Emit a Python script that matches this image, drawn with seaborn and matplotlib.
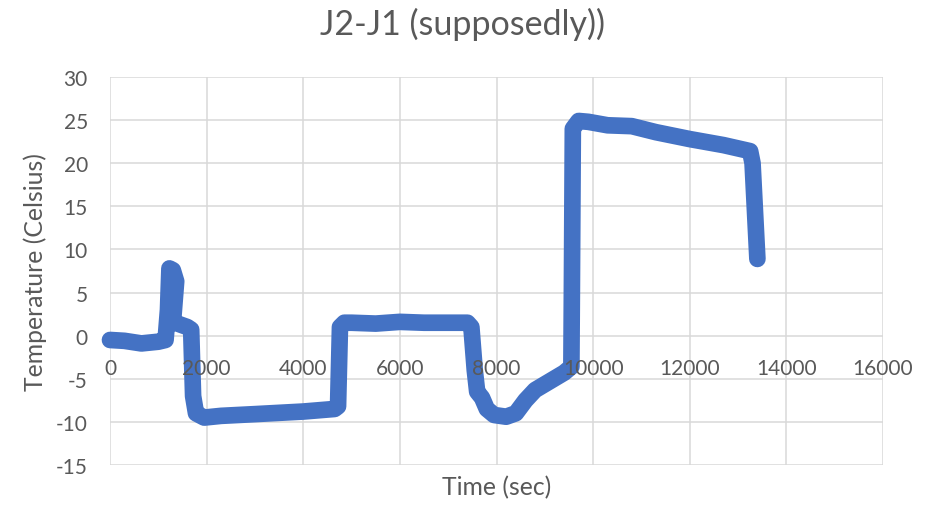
import matplotlib
matplotlib.use("Agg")
import matplotlib.pyplot as plt
import seaborn as sns
import pandas as pd

# Data
time_sec = [0, 300, 650, 1000, 1150, 1200, 1230, 1300, 1370, 1310, 1300, 1600, 1680,
            1720, 1780, 1950, 2300, 3000, 4000, 4650, 4720, 4760, 4850, 5000, 5500,
            6000, 6500, 7000, 7400, 7480, 7550, 7600, 7700, 7800, 7950, 8200, 8400,
            8600, 8800, 9100, 9400, 9550, 9560, 9580, 9700, 9900, 10300, 10800,
            11300, 12000, 12700, 13250, 13300, 13400]
temp_c = [-0.5, -0.6, -0.9, -0.7, -0.5, 3.0, 7.8, 7.6, 6.3, 2.0, 1.6, 1.0, 0.7,
          -7.0, -9.0, -9.5, -9.3, -9.1, -8.8, -8.5, -8.2, 1.0, 1.5, 1.5, 1.4,
          1.6, 1.5, 1.5, 1.5, 1.0, -4.0, -6.5, -7.2, -8.5, -9.2, -9.4, -9.0,
          -7.5, -6.3, -5.3, -4.3, -3.6, 5.0, 24.0, 24.9, 24.8, 24.4, 24.3,
          23.6, 22.8, 22.1, 21.4, 20.0, 8.9]
x_ticks = [0, 2000, 4000, 6000, 8000, 10000, 12000, 14000, 16000]
y_ticks = [-15, -10, -5, 0, 5, 10, 15, 20, 25, 30]
title = "J2-J1 (supposedly))"
x_label = "Time (sec)"
y_label = "Temperature (Celsius)"

df = pd.DataFrame({"Time": time_sec, "Temp": temp_c})

sns.set_theme(style="white")
plt.rcParams['font.family'] = ['Lato', 'DejaVu Sans']
txt = "#595959"
grid = "#D9D9D9"
blue = "#4472C4"

fig = plt.figure(figsize=(9.30, 5.06), dpi=100)
ax = fig.add_axes([110/930, 1-466/506, (883-110)/930, (466-78)/506])

# gridlines drawn beneath the data, tick labels drawn above it
for xv in x_ticks:
    ax.axvline(xv, color=grid, linewidth=1.1, zorder=0.5)
for yv in y_ticks:
    ax.axhline(yv, color=grid, linewidth=1.1, zorder=0.5)

sns.lineplot(data=df, x="Time", y="Temp", sort=False, estimator=None, ax=ax,
             color=blue, linewidth=12, solid_capstyle="round",
             solid_joinstyle="round", clip_on=False, zorder=2)

ax.set_xlim(0, 16000)
ax.set_ylim(-15, 30)
ax.set_xticks(x_ticks)
ax.set_yticks(y_ticks)
ax.set_xticklabels([str(v) for v in x_ticks])
ax.set_yticklabels([str(v) for v in y_ticks])
ax.grid(False)
ax.set_axisbelow(False)
for s in ax.spines.values():
    s.set_visible(False)
ax.spines['bottom'].set_position(('data', 0))
ax.tick_params(axis='x', length=0, pad=16, labelsize=15, colors=txt)
ax.tick_params(axis='y', length=0, pad=16, labelsize=15, colors=txt)

ax.set_xlabel(x_label, fontsize=17.8, color=txt)
ax.set_ylabel(y_label, fontsize=17.8, color=txt)
ax.xaxis.set_label_coords(0.5, (466-476)/388, transform=ax.transAxes)
ax.yaxis.set_label_coords((47-110)/773, 0.5, transform=ax.transAxes)

fig.text(462/930, 1-8/506, title, ha="center", va="top",
         fontsize=24.5, color=txt)

fig.savefig("out.png", dpi=100, facecolor="white")
